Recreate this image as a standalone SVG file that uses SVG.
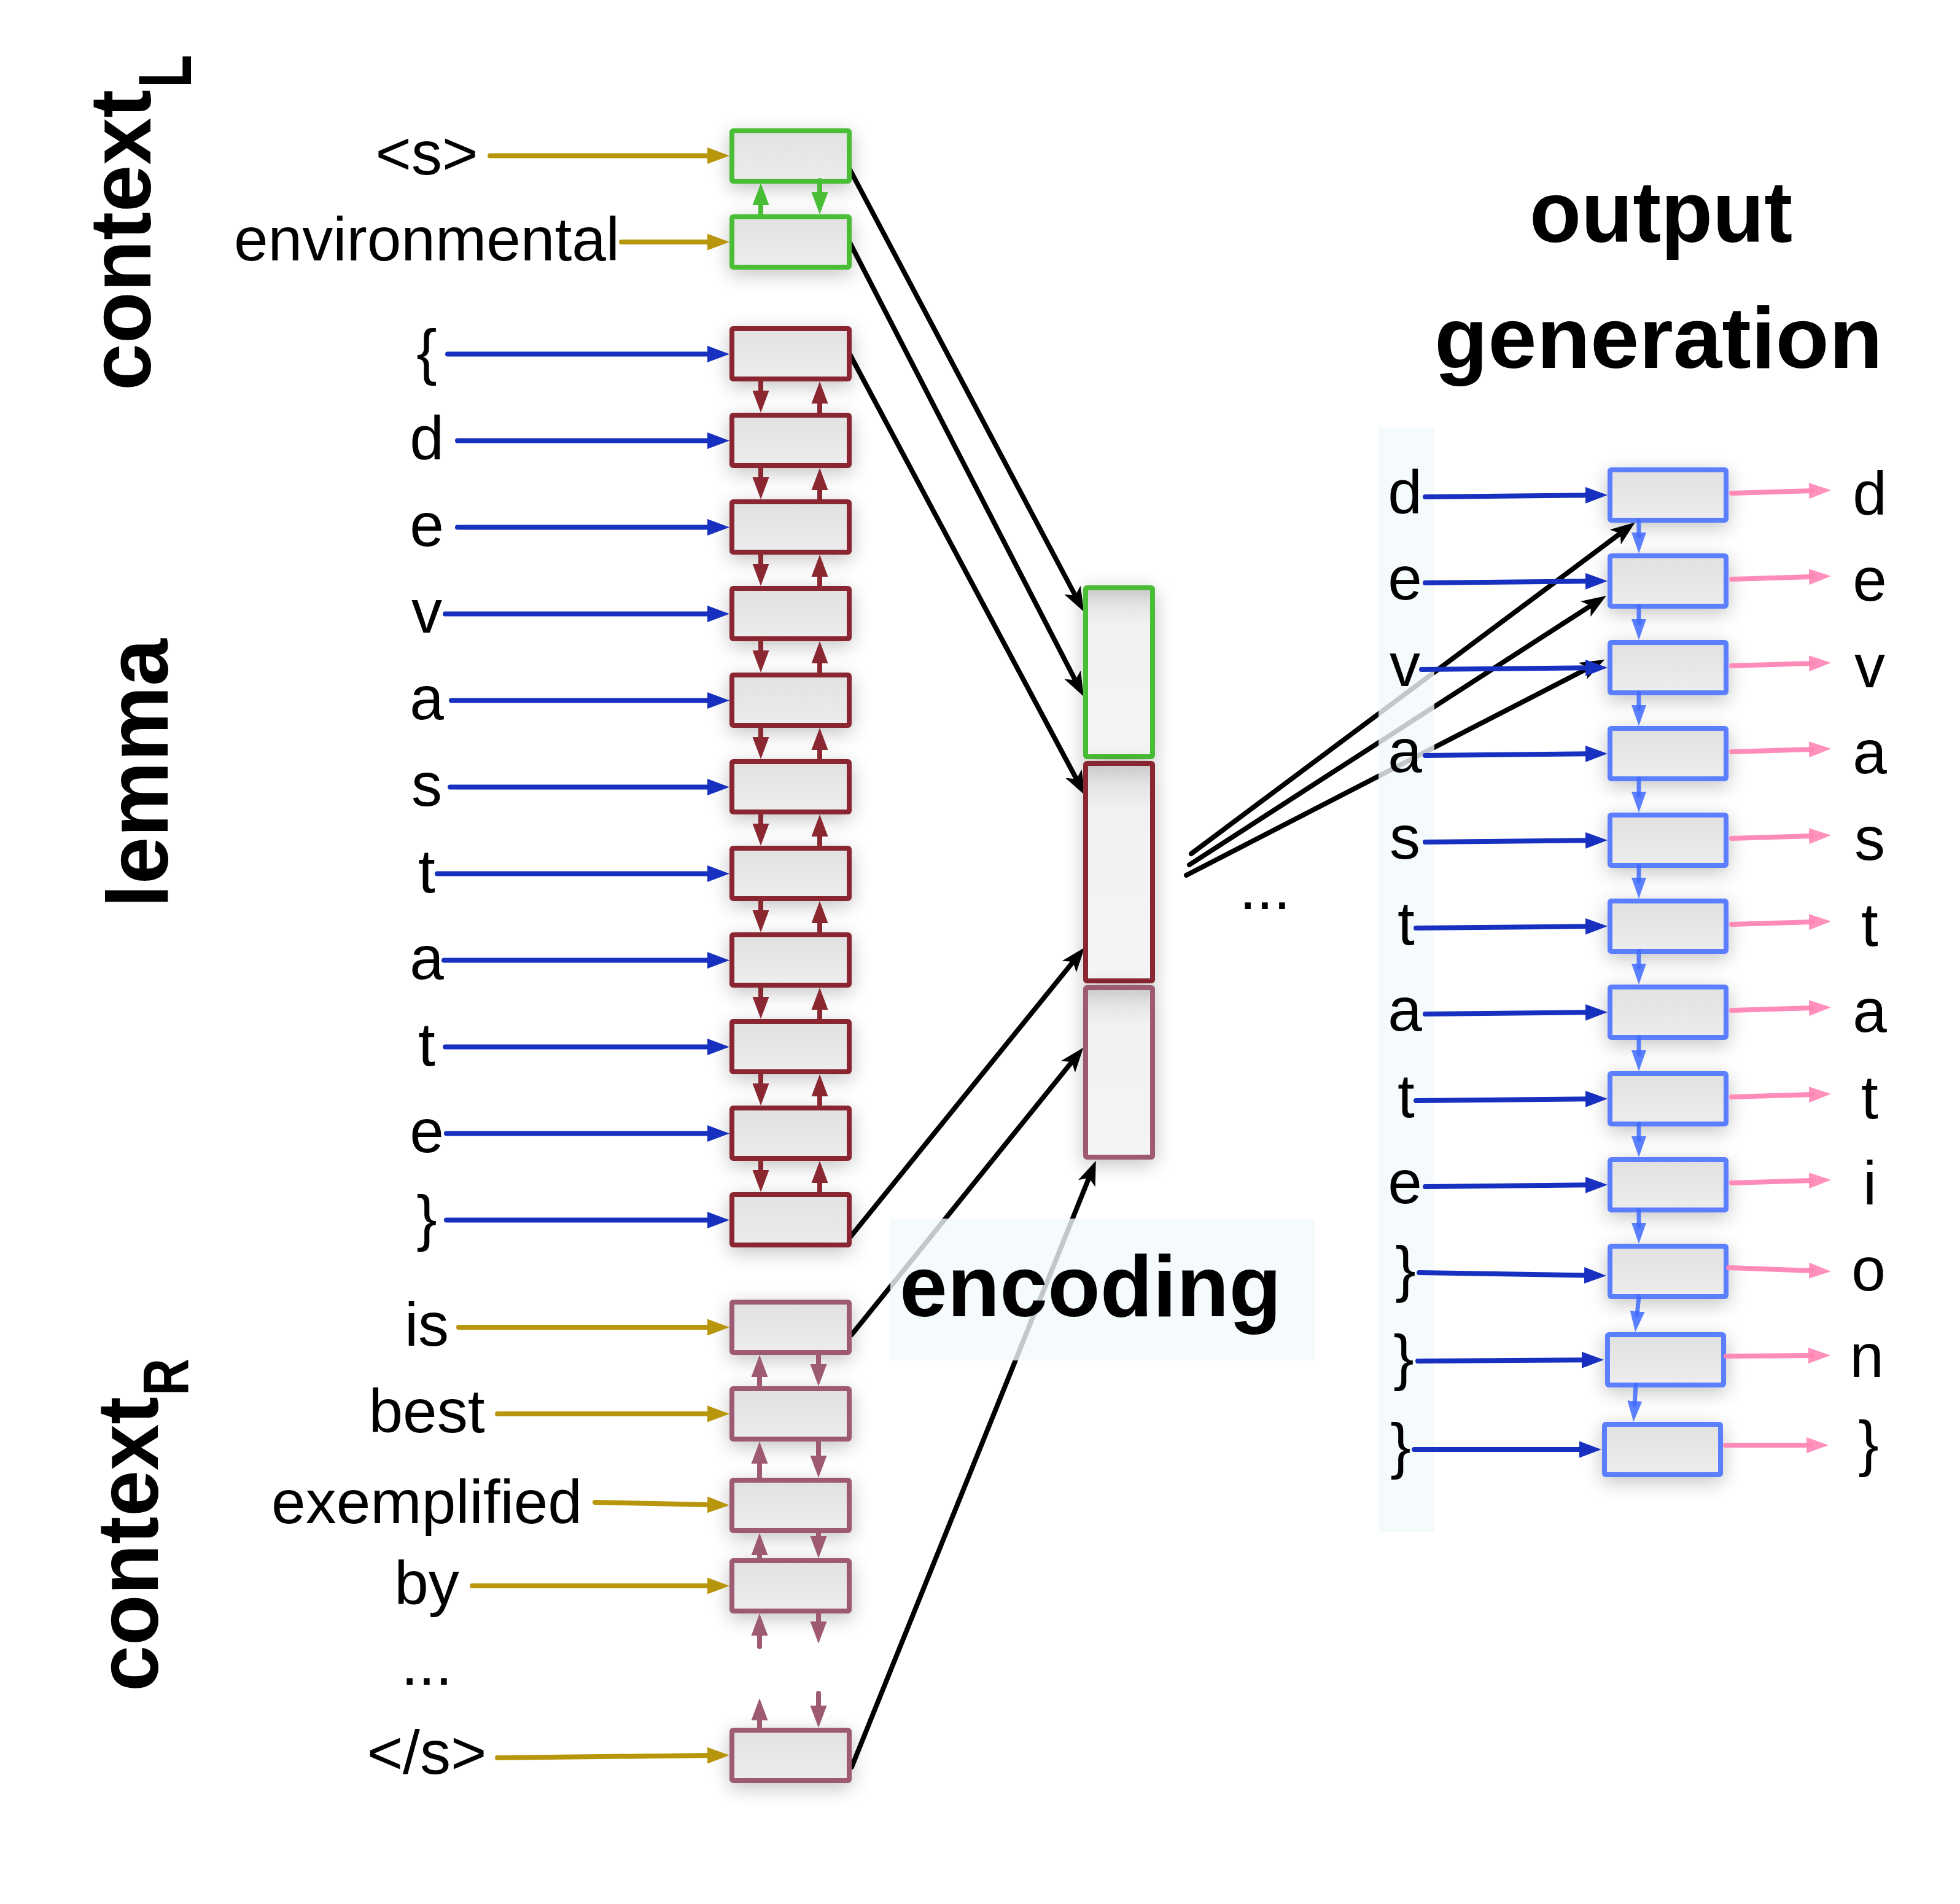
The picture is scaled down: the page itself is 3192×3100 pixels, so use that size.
<svg xmlns="http://www.w3.org/2000/svg" width="3192" height="3100" viewBox="0 0 3192 3100">
<defs>
<style>
.lbl{font-family:"Liberation Sans",Arial,Helvetica,sans-serif;font-size:100px;fill:#000;text-anchor:middle}
.ttl{font-family:"Liberation Sans",Arial,Helvetica,sans-serif;font-weight:bold;font-size:141px;fill:#000}
.box{fill:url(#gBox);stroke-width:8;filter:url(#sh)}
.enc{fill:url(#gEnc);stroke-width:8;filter:url(#sh)}
.bg{stroke:#49BD36}
.br{stroke:#8A2731}
.bm{stroke:#9D5A72}
.bb{stroke:#5B7FFF}
.ln{fill:none;stroke-width:8;stroke-linecap:round}
.gold{stroke:#B8960C;marker-end:url(#aGold)}
.blue{stroke:#1730BF;marker-end:url(#aBlue)}
.grn{stroke:#49BD36;marker-end:url(#aGrn)}
.red{stroke:#8A2731;marker-end:url(#aRed)}
.mau{stroke:#9D5A72;marker-end:url(#aMau)}
.lb{stroke:#3F6BFF;stroke-opacity:0.85;stroke-width:7;marker-end:url(#aLB)}
.pink{stroke:#FF85B5;stroke-opacity:0.95;marker-end:url(#aPink)}
.blk{fill:none;stroke:#000;stroke-width:8;stroke-linecap:round;marker-end:url(#aBlk)}
.veil{fill:#F3F9FC;opacity:0.8}
</style>
<linearGradient id="gBox" x1="0" y1="0" x2="0" y2="1">
<stop offset="0" stop-color="#E1E1E1"/>
<stop offset="1" stop-color="#EDEDED"/>
</linearGradient>
<linearGradient id="gEnc" x1="0" y1="0" x2="0" y2="1">
<stop offset="0" stop-color="#C8C8C8"/>
<stop offset="0.1" stop-color="#E4E4E4"/>
<stop offset="0.22" stop-color="#F2F2F2"/>
<stop offset="1" stop-color="#F4F4F4"/>
</linearGradient>
<filter id="sh" x="-40%" y="-60%" width="180%" height="240%">
<feGaussianBlur in="SourceAlpha" stdDeviation="16"/>
<feOffset dy="8" result="b"/>
<feComponentTransfer><feFuncA type="linear" slope="0.24"/></feComponentTransfer>
<feMerge><feMergeNode/><feMergeNode in="SourceGraphic"/></feMerge>
</filter>
<marker id="aGold" markerUnits="userSpaceOnUse" viewBox="0 0 36 28" markerWidth="36" markerHeight="28" refX="6" refY="14" orient="auto"><path d="M0,0.5 L36,14 L0,27.5 z" fill="#B8960C"/></marker>
<marker id="aBlue" markerUnits="userSpaceOnUse" viewBox="0 0 36 28" markerWidth="36" markerHeight="28" refX="6" refY="14" orient="auto"><path d="M0,0.5 L36,14 L0,27.5 z" fill="#1730BF"/></marker>
<marker id="aGrn" markerUnits="userSpaceOnUse" viewBox="0 0 36 28" markerWidth="36" markerHeight="28" refX="6" refY="14" orient="auto"><path d="M0,0.5 L36,14 L0,27.5 z" fill="#49BD36"/></marker>
<marker id="aRed" markerUnits="userSpaceOnUse" viewBox="0 0 36 28" markerWidth="36" markerHeight="28" refX="6" refY="14" orient="auto"><path d="M0,0.5 L36,14 L0,27.5 z" fill="#8A2731"/></marker>
<marker id="aMau" markerUnits="userSpaceOnUse" viewBox="0 0 36 28" markerWidth="36" markerHeight="28" refX="6" refY="14" orient="auto"><path d="M0,0.5 L36,14 L0,27.5 z" fill="#9D5A72"/></marker>
<marker id="aLB" markerUnits="userSpaceOnUse" viewBox="0 0 34 26" markerWidth="34" markerHeight="26" refX="6" refY="13" orient="auto"><path d="M0,1 L34,13 L0,25 z" fill="#3F6BFF" fill-opacity="0.85"/></marker>
<marker id="aPink" markerUnits="userSpaceOnUse" viewBox="0 0 36 28" markerWidth="36" markerHeight="28" refX="6" refY="14" orient="auto"><path d="M0,1 L36,14 L0,27 z" fill="#FF85B5" fill-opacity="0.9"/></marker>
<marker id="aBlk" markerUnits="userSpaceOnUse" viewBox="0 0 40 30" markerWidth="40" markerHeight="30" refX="14" refY="15" orient="auto"><path d="M0,0 L40,15 L0,30 L10,15 z" fill="#000"/></marker>
</defs>
<rect x="0" y="0" width="3192" height="3100" fill="#FFFFFF"/>

<!-- encoder-to-encoding and encoding-to-decoder links -->
<g id="connectors">
<path class="blk" d="M1383,274 L1753,973"/>
<path class="blk" d="M1383,393 L1753,1111"/>
<path class="blk" d="M1383,575 L1755,1272"/>
<path class="blk" d="M1384,2015 L1750,1563"/>
<path class="blk" d="M1387,2173 L1748,1726"/>
<path class="blk" d="M1387,2877 L1775,1914"/>
<path class="blk" d="M1940,1390 L2642,866"/>
<path class="blk" d="M1937,1408 L2594,984"/>
<path class="blk" d="M1932,1425 L2590,1086"/>
</g>

<g id="veils">
<rect class="veil" x="1450" y="1984" width="691" height="231"/>
<rect class="veil" x="2245" y="696" width="91" height="1798"/>
</g>

<g id="titles">
<text class="ttl" transform="translate(245,636) rotate(-90)" textLength="490" lengthAdjust="spacingAndGlyphs">context</text>
<text class="ttl" transform="translate(311,143) rotate(-90)" style="font-size:122px" textLength="54" lengthAdjust="spacingAndGlyphs">L</text>
<text class="ttl" transform="translate(273,1478) rotate(-90)" textLength="438" lengthAdjust="spacingAndGlyphs">lemma</text>
<text class="ttl" transform="translate(257,2754) rotate(-90)" textLength="480" lengthAdjust="spacingAndGlyphs">context</text>
<text class="ttl" transform="translate(307,2272) rotate(-90)" style="font-size:106px" textLength="60" lengthAdjust="spacingAndGlyphs">R</text>
<text class="ttl" x="2705" y="394" text-anchor="middle" textLength="428" lengthAdjust="spacingAndGlyphs">output</text>
<text class="ttl" x="2701" y="599" text-anchor="middle" textLength="730" lengthAdjust="spacingAndGlyphs">generation</text>
<text class="ttl" x="1776" y="2143" text-anchor="middle" textLength="622" lengthAdjust="spacingAndGlyphs">encoding</text>
<text class="lbl" x="2060" y="1480">...</text>
</g>

<!-- encoder: left context -->
<g id="ctxL-0"><rect class="box bg" x="1192" y="213" width="191" height="82" rx="2"/><text class="lbl" x="695" y="284">&lt;s&gt;</text></g>
<g id="ctxL-1"><rect class="box bg" x="1192" y="353" width="191" height="82" rx="2"/><text class="lbl" x="695" y="424">environmental</text></g>

<!-- encoder: lemma -->
<g id="lem-0"><rect class="box br" x="1192" y="535" width="191" height="82" rx="2"/><text class="lbl" x="695" y="607">{</text></g>
<g id="lem-1"><rect class="box br" x="1192" y="676" width="191" height="82" rx="2"/><text class="lbl" x="695" y="748">d</text></g>
<g id="lem-2"><rect class="box br" x="1192" y="817" width="191" height="82" rx="2"/><text class="lbl" x="695" y="889">e</text></g>
<g id="lem-3"><rect class="box br" x="1192" y="958" width="191" height="82" rx="2"/><text class="lbl" x="695" y="1030">v</text></g>
<g id="lem-4"><rect class="box br" x="1192" y="1099" width="191" height="82" rx="2"/><text class="lbl" x="695" y="1171">a</text></g>
<g id="lem-5"><rect class="box br" x="1192" y="1240" width="191" height="82" rx="2"/><text class="lbl" x="695" y="1312">s</text></g>
<g id="lem-6"><rect class="box br" x="1192" y="1381" width="191" height="82" rx="2"/><text class="lbl" x="695" y="1453">t</text></g>
<g id="lem-7"><rect class="box br" x="1192" y="1522" width="191" height="82" rx="2"/><text class="lbl" x="695" y="1594">a</text></g>
<g id="lem-8"><rect class="box br" x="1192" y="1663" width="191" height="82" rx="2"/><text class="lbl" x="695" y="1735">t</text></g>
<g id="lem-9"><rect class="box br" x="1192" y="1804" width="191" height="82" rx="2"/><text class="lbl" x="695" y="1876">e</text></g>
<g id="lem-10"><rect class="box br" x="1192" y="1945" width="191" height="82" rx="2"/><text class="lbl" x="695" y="2017">}</text></g>

<!-- encoder: right context -->
<g id="ctxR-0"><rect class="box bm" x="1192" y="2120" width="191" height="82" rx="2"/><text class="lbl" x="695" y="2191">is</text></g>
<g id="ctxR-1"><rect class="box bm" x="1192" y="2261" width="191" height="82" rx="2"/><text class="lbl" x="695" y="2332">best</text></g>
<g id="ctxR-2"><rect class="box bm" x="1192" y="2410" width="191" height="82" rx="2"/><text class="lbl" x="695" y="2480">exemplified</text></g>
<g id="ctxR-3"><rect class="box bm" x="1192" y="2541" width="191" height="82" rx="2"/><text class="lbl" x="695" y="2612">by</text></g>
<g id="ctxR-gap"><text class="lbl" x="695" y="2743">...</text></g>
<g id="ctxR-4"><rect class="box bm" x="1192" y="2817" width="191" height="82" rx="2"/><text class="lbl" x="695" y="2888">&lt;/s&gt;</text></g>

<!-- encoding vector -->
<g id="encoding">
<rect class="enc bg" x="1768" y="957" width="109" height="275" rx="2"/>
<rect class="enc br" x="1768" y="1243" width="109" height="354" rx="2"/>
<rect class="enc bm" x="1768" y="1608" width="109" height="276" rx="2"/>
</g>

<!-- decoder -->
<g id="dec-0"><rect class="box bb" x="2622" y="765" width="189" height="82" rx="2"/><text class="lbl" x="2288" y="836">d</text><text class="lbl" x="3045" y="838">d</text></g>
<g id="dec-1"><rect class="box bb" x="2622" y="905" width="189" height="82" rx="2"/><text class="lbl" x="2288" y="976">e</text><text class="lbl" x="3045" y="978">e</text></g>
<g id="dec-2"><rect class="box bb" x="2622" y="1046" width="189" height="82" rx="2"/><text class="lbl" x="2288" y="1117">v</text><text class="lbl" x="3045" y="1119">v</text></g>
<g id="dec-3"><rect class="box bb" x="2622" y="1186" width="189" height="82" rx="2"/><text class="lbl" x="2288" y="1257">a</text><text class="lbl" x="3045" y="1259">a</text></g>
<g id="dec-4"><rect class="box bb" x="2622" y="1327" width="189" height="82" rx="2"/><text class="lbl" x="2288" y="1398">s</text><text class="lbl" x="3045" y="1400">s</text></g>
<g id="dec-5"><rect class="box bb" x="2622" y="1467" width="189" height="82" rx="2"/><text class="lbl" x="2290" y="1538">t</text><text class="lbl" x="3045" y="1540">t</text></g>
<g id="dec-6"><rect class="box bb" x="2622" y="1607" width="189" height="82" rx="2"/><text class="lbl" x="2288" y="1678">a</text><text class="lbl" x="3045" y="1680">a</text></g>
<g id="dec-7"><rect class="box bb" x="2622" y="1748" width="189" height="82" rx="2"/><text class="lbl" x="2290" y="1819">t</text><text class="lbl" x="3045" y="1821">t</text></g>
<g id="dec-8"><rect class="box bb" x="2622" y="1888" width="189" height="82" rx="2"/><text class="lbl" x="2288" y="1959">e</text><text class="lbl" x="3045" y="1961">i</text></g>
<g id="dec-9"><rect class="box bb" x="2622" y="2029" width="189" height="82" rx="2"/><text class="lbl" x="2289" y="2100">}</text><text class="lbl" x="3043" y="2101">o</text></g>
<g id="dec-10"><rect class="box bb" x="2618" y="2173" width="189" height="82" rx="2"/><text class="lbl" x="2286" y="2244">}</text><text class="lbl" x="3040" y="2242">n</text></g>
<g id="dec-11"><rect class="box bb" x="2613" y="2319" width="189" height="82" rx="2"/><text class="lbl" x="2281" y="2388">}</text><text class="lbl" x="3043" y="2384">}</text></g>

<!-- input / recurrent / output arrows -->
<g id="arrows">
<path class="ln gold" d="M798,253.5 L1158,253.5"/>
<path class="ln gold" d="M1012,394 L1158,394"/>
<path class="ln grn" d="M1239,353 L1239,328"/>
<path class="ln grn" d="M1335,294 L1335,319"/>

<path class="ln blue" d="M729,576.5 L1158,576.5"/>
<path class="ln blue" d="M745,717.5 L1158,717.5"/>
<path class="ln blue" d="M745,858.5 L1158,858.5"/>
<path class="ln blue" d="M725,999.5 L1158,999.5"/>
<path class="ln blue" d="M735,1140.5 L1158,1140.5"/>
<path class="ln blue" d="M733,1281.5 L1158,1281.5"/>
<path class="ln blue" d="M712,1422.5 L1158,1422.5"/>
<path class="ln blue" d="M723,1563.5 L1158,1563.5"/>
<path class="ln blue" d="M725,1704.5 L1158,1704.5"/>
<path class="ln blue" d="M727,1845.5 L1158,1845.5"/>
<path class="ln blue" d="M727,1986.5 L1158,1986.5"/>

<path class="ln red" d="M1239,617 L1239,642"/><path class="ln red" d="M1335,676 L1335,651"/>
<path class="ln red" d="M1239,758 L1239,783"/><path class="ln red" d="M1335,817 L1335,792"/>
<path class="ln red" d="M1239,899 L1239,924"/><path class="ln red" d="M1335,958 L1335,933"/>
<path class="ln red" d="M1239,1040 L1239,1065"/><path class="ln red" d="M1335,1099 L1335,1074"/>
<path class="ln red" d="M1239,1181 L1239,1206"/><path class="ln red" d="M1335,1240 L1335,1215"/>
<path class="ln red" d="M1239,1322 L1239,1347"/><path class="ln red" d="M1335,1381 L1335,1356"/>
<path class="ln red" d="M1239,1463 L1239,1488"/><path class="ln red" d="M1335,1522 L1335,1497"/>
<path class="ln red" d="M1239,1604 L1239,1629"/><path class="ln red" d="M1335,1663 L1335,1638"/>
<path class="ln red" d="M1239,1745 L1239,1770"/><path class="ln red" d="M1335,1804 L1335,1779"/>
<path class="ln red" d="M1239,1886 L1239,1911"/><path class="ln red" d="M1335,1945 L1335,1920"/>

<path class="ln gold" d="M747,2161 L1158,2161"/>
<path class="ln gold" d="M810,2302 L1158,2302"/>
<path class="ln gold" d="M969,2446 L1158,2450"/>
<path class="ln gold" d="M769,2582 L1158,2582"/>
<path class="ln gold" d="M810,2862 L1158,2858"/>
<path class="ln mau" d="M1237,2261 L1237,2236"/><path class="ln mau" d="M1333,2202 L1333,2227"/>
<path class="ln mau" d="M1237,2410 L1237,2377"/><path class="ln mau" d="M1333,2343 L1333,2376"/>
<path class="ln mau" d="M1237,2541 L1237,2526"/><path class="ln mau" d="M1333,2492 L1333,2507"/>
<path class="ln mau" d="M1237,2681 L1237,2657"/><path class="ln mau" d="M1333,2623 L1333,2646"/>
<path class="ln mau" d="M1237,2817 L1237,2795"/><path class="ln mau" d="M1333,2757 L1333,2783"/>

<path class="ln blue" d="M2321,809 L2588,806.3"/>
<path class="ln blue" d="M2321,949 L2588,946.3"/>
<path class="ln blue" d="M2315,1090 L2588,1087.3"/>
<path class="ln blue" d="M2321,1230 L2588,1227.3"/>
<path class="ln blue" d="M2321,1371 L2588,1368.3"/>
<path class="ln blue" d="M2306,1511 L2588,1508.3"/>
<path class="ln blue" d="M2321,1651 L2588,1648.3"/>
<path class="ln blue" d="M2306,1792 L2588,1789.3"/>
<path class="ln blue" d="M2321,1932 L2588,1929.3"/>
<path class="ln blue" d="M2311,2072 L2586,2076.5"/>
<path class="ln blue" d="M2309,2216 L2582,2214.2"/>
<path class="ln blue" d="M2303,2360 L2578,2360"/>

<path class="ln lb" d="M2669,847 L2669,873"/>
<path class="ln lb" d="M2669,987 L2669,1014"/>
<path class="ln lb" d="M2669,1128 L2669,1154"/>
<path class="ln lb" d="M2669,1268 L2669,1295"/>
<path class="ln lb" d="M2669,1409 L2669,1435"/>
<path class="ln lb" d="M2669,1549 L2669,1575"/>
<path class="ln lb" d="M2669,1689 L2669,1716"/>
<path class="ln lb" d="M2669,1830 L2669,1856"/>
<path class="ln lb" d="M2669,1970 L2669,1997"/>
<path class="ln lb" d="M2669,2111 L2666,2141"/>
<path class="ln lb" d="M2664,2255 L2662,2287"/>

<path class="ln pink" d="M2820,803 L2952,799"/>
<path class="ln pink" d="M2820,943 L2952,939"/>
<path class="ln pink" d="M2820,1084 L2952,1080"/>
<path class="ln pink" d="M2820,1224 L2952,1220"/>
<path class="ln pink" d="M2820,1365 L2952,1361"/>
<path class="ln pink" d="M2820,1505 L2952,1501"/>
<path class="ln pink" d="M2820,1645 L2952,1641"/>
<path class="ln pink" d="M2820,1786 L2952,1782"/>
<path class="ln pink" d="M2820,1926 L2952,1922"/>
<path class="ln pink" d="M2815,2064 L2952,2069"/>
<path class="ln pink" d="M2811,2208 L2951,2207"/>
<path class="ln pink" d="M2810,2353 L2948,2353"/>
</g>
</svg>
